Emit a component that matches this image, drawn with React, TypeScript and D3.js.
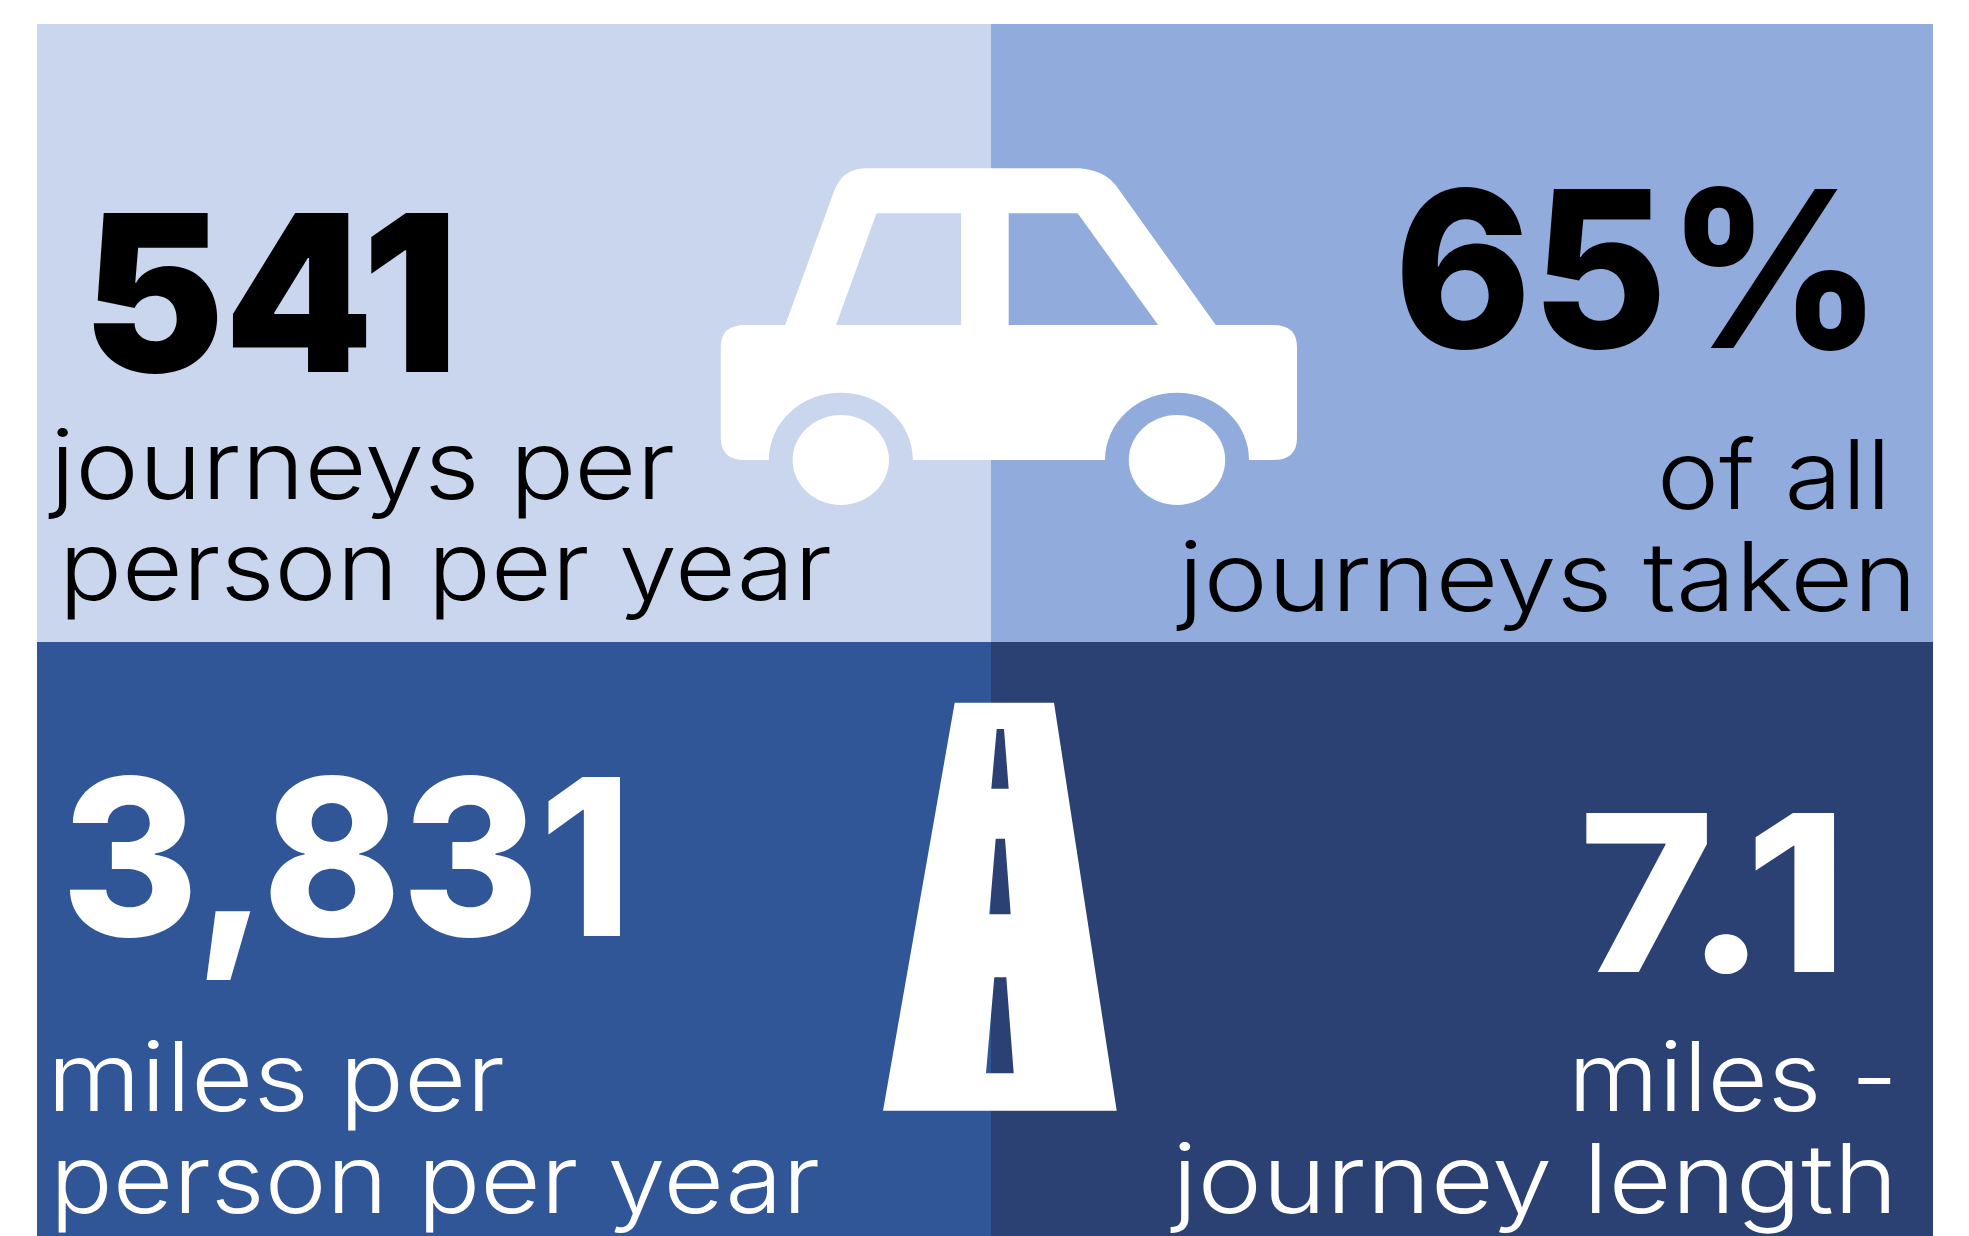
import React from 'react'
import * as d3 from 'd3'

// values
const figures = ['541', '65%', '3,831', '7.1']
const captions = [
  ['journeys per', 'person per year'],
  ['of all', 'journeys taken'],
  ['miles per', 'person per year'],
  ['miles -', 'journey length'],
]
const panelColors = ['#c9d6ee', '#90abdc', '#305697', '#2c4173']
const inkColors = ['#000000', '#000000', '#ffffff', '#ffffff']
const figureWeights = [900, 800, 800, 800]

const width = 1969
const height = 1236
const FONT = 'Inter, "Open Sans", sans-serif'

// panel edges
const xEdge = d3.scaleOrdinal<number, number>().domain([0, 1, 2]).range([37, 991, 1933])
const yEdge = d3.scaleOrdinal<number, number>().domain([0, 1, 2]).range([24, 642, 1236])

// left, right, baseline of each text as measured
const figureBox = [
  [83, 458, 372],
  [1394, 1882, 348],
  [61, 632, 935.5],
  [1579, 1847, 972],
]
const captionBox = [
  [[50, 675, 498.5], [59, 832, 600]],
  [[1657, 1891, 508.5], [1178, 1917, 611]],
  [[47, 505, 1110.7], [50, 820, 1212.7]],
  [[1568, 1898, 1110.7], [1172, 1898, 1212.7]],
]

function carPath() {
  const p = d3.path()
  // body + cabin outline, clockwise from the left sill
  p.moveTo(720.8, 347)
  p.quadraticCurveTo(720.8, 325, 745, 325)
  p.lineTo(785.2, 325)
  p.lineTo(834.5, 190)
  p.quadraticCurveTo(843, 168.3, 867, 168.3)
  p.lineTo(1079.8, 168.3)
  p.quadraticCurveTo(1103, 170, 1115.6, 185)
  p.lineTo(1215.8, 325)
  p.lineTo(1273, 325)
  p.quadraticCurveTo(1297, 325, 1297, 347)
  p.lineTo(1297, 438)
  p.quadraticCurveTo(1297, 460, 1273, 460)
  p.lineTo(1249, 460)
  let d = p.toString()
  // wheel arches need elliptical arcs, d3.path has none
  d += 'A72 67.3 0 0 0 1105 460L912.8 460A72 67.3 0 0 0 768.8 460L745 460'
  d += 'Q720.8 460 720.8 438Z'
  // windows
  d += 'M876.5 213.3L961.1 213.3L961.1 325L836.1 325Z'
  d += 'M1008.7 213.3L1077.7 213.3L1158.1 325L1008.7 325Z'
  return d
}

function roadPath() {
  const p = d3.path()
  const poly = (pts: number[][]) => {
    pts.forEach(([x, y], i) => (i ? p.lineTo(x, y) : p.moveTo(x, y)))
    p.closePath()
  }
  poly([[954.7, 702.7], [1054, 702.7], [1116.7, 1110.7], [883, 1110.7]])
  poly([[996.7, 729], [1004, 729], [1008.7, 788.7], [991.3, 788.7]])
  poly([[995.7, 838.7], [1005, 838.7], [1010.7, 914.3], [989.3, 914.3]])
  poly([[994.3, 977.3], [1006.3, 977.3], [1013.7, 1073.3], [986, 1073.3]])
  return p.toString()
}

export default function App() {
  return (
    <svg
      width={width}
      height={height}
      style={{ position: 'absolute', left: 0, top: 0, background: '#fff' }}
    >
      {panelColors.map((c, i) => {
        const col = i % 2
        const row = Math.floor(i / 2)
        return (
          <rect
            key={i}
            x={xEdge(col)}
            y={yEdge(row)}
            width={xEdge(col + 1) - xEdge(col)}
            height={yEdge(row + 1) - yEdge(row)}
            fill={c}
          />
        )
      })}

      <path d={carPath()} fill="#fff" fillRule="evenodd" />
      <ellipse cx={840.8} cy={460} rx={48.2} ry={45} fill="#fff" />
      <ellipse cx={1177} cy={460} rx={48.2} ry={45} fill="#fff" />
      <path d={roadPath()} fill="#fff" fillRule="evenodd" />

      {figures.map((t, i) => (
        <text
          key={t}
          x={figureBox[i][0]}
          y={figureBox[i][2]}
          textLength={figureBox[i][1] - figureBox[i][0]}
          lengthAdjust="spacingAndGlyphs"
          fontFamily={FONT}
          fontWeight={figureWeights[i]}
          fontSize={219}
          fill={inkColors[i]}
        >
          {t}
        </text>
      ))}

      {captions.map((lines, i) =>
        lines.map((t, j) => (
          <text
            key={t + i}
            x={captionBox[i][j][0]}
            y={captionBox[i][j][2]}
            textLength={captionBox[i][j][1] - captionBox[i][j][0]}
            lengthAdjust="spacingAndGlyphs"
            fontFamily={FONT}
            fontWeight={300}
            fontSize={96}
            fill={inkColors[i]}
          >
            {t}
          </text>
        ))
      )}
    </svg>
  )
}
